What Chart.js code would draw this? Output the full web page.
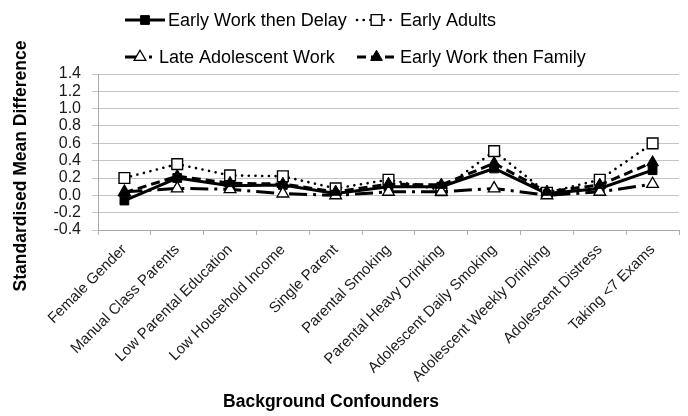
<!DOCTYPE html>
<html>
<head>
<meta charset="utf-8">
<script src="https://cdn.jsdelivr.net/npm/chart.js@4/dist/chart.umd.min.js"></script>
<style>
  html, body { margin: 0; padding: 0; background: #fff; }
  #wrap { width: 688px; height: 416px; position: relative; }
</style>
</head>
<body>
<div id="wrap"><canvas id="c" width="688" height="416"></canvas></div>
<script>
// Background confounders (x categories)
const confounders = [
  'Female Gender', 'Manual Class Parents', 'Low Parental Education',
  'Low Household Income', 'Single Parent', 'Parental Smoking',
  'Parental Heavy Drinking', 'Adolescent Daily Smoking',
  'Adolescent Weekly Drinking', 'Adolescent Distress', 'Taking <7 Exams'
];

// Standardised mean differences per trajectory group
const earlyWorkDelay   = [-0.06, 0.20, 0.11, 0.12, 0.02, 0.10, 0.10, 0.31, 0.02, 0.08, 0.29];
const earlyAdults      = [ 0.20, 0.36, 0.23, 0.22, 0.08, 0.18, 0.06, 0.51, 0.03, 0.18, 0.60];
const lateAdolescent   = [ 0.04, 0.08, 0.07, 0.02, 0.00, 0.04, 0.04, 0.08, 0.00, 0.04, 0.13];
const earlyWorkFamily  = [ 0.03, 0.22, 0.14, 0.13, 0.04, 0.13, 0.12, 0.37, 0.04, 0.12, 0.38];

const seriesNames = ['Early Work then Delay', 'Early Adults', 'Late Adolescent Work', 'Early Work then Family'];

// Y axis range and step
const yMin = -0.4, yMax = 1.4, yStep = 0.2;

const FONT = "'Liberation Sans', Arial, Helvetica, sans-serif";

// Legend: two rows of two entries, each a line sample with its marker
const legendSlots = [
  { ds: 0, x0: 125, x1: 165, y: 20, tx: 168 },
  { ds: 1, x0: 357, x1: 396, y: 20, tx: 400 },
  { ds: 2, x0: 125, x1: 155, y: 57, tx: 159 },
  { ds: 3, x0: 357, x1: 396, y: 57, tx: 400 }
];

function drawMarker(ctx, ds, x, y) {
  const r = ds.pointRadius;
  ctx.save();
  ctx.setLineDash([]);
  ctx.lineWidth = ds.pointBorderWidth;
  ctx.strokeStyle = ds.pointBorderColor;
  ctx.fillStyle = ds.pointBackgroundColor;
  ctx.beginPath();
  if (ds.pointStyle === 'rect') {
    const s = r * Math.SQRT1_2;
    ctx.rect(x - s, y - s, 2 * s, 2 * s);
  } else {
    // equilateral triangle, same geometry as Chart.js
    const h = r * 1.5;
    const w = r * Math.sqrt(3);
    ctx.moveTo(x, y - r);
    ctx.lineTo(x + w / 2, y - r + h);
    ctx.lineTo(x - w / 2, y - r + h);
    ctx.closePath();
  }
  ctx.fill();
  ctx.stroke();
  ctx.restore();
}

const decorations = {
  id: 'decorations',
  afterDraw(chart) {
    const ctx = chart.ctx;
    const sets = chart.data.datasets;

    // legend entries
    legendSlots.forEach(slot => {
      const ds = sets[slot.ds];
      ctx.save();
      ctx.strokeStyle = ds.borderColor;
      ctx.lineWidth = ds.borderWidth;
      ctx.lineCap = ds.borderCapStyle || 'butt';
      ctx.setLineDash(ds.borderDash || []);
      ctx.beginPath();
      ctx.moveTo(slot.x0, slot.y);
      ctx.lineTo(slot.x1, slot.y);
      ctx.stroke();
      ctx.restore();
      drawMarker(ctx, ds, (slot.x0 + slot.x1) / 2, slot.y);
      ctx.save();
      ctx.fillStyle = '#000';
      ctx.font = '18px ' + FONT;
      ctx.textAlign = 'left';
      ctx.textBaseline = 'middle';
      ctx.fillText(ds.label, slot.tx, slot.y + 1);
      ctx.restore();
    });

    // axis titles
    ctx.save();
    ctx.fillStyle = '#000';
    ctx.font = 'bold 17.5px ' + FONT;
    ctx.textAlign = 'center';
    ctx.textBaseline = 'middle';
    ctx.fillText('Background Confounders', 331, 402);
    ctx.translate(21, 166);
    ctx.rotate(-Math.PI / 2);
    ctx.fillText('Standardised Mean Difference', 0, 0);
    ctx.restore();
  }
};

new Chart(document.getElementById('c'), {
  type: 'line',
  data: {
    labels: confounders,
    datasets: [
      {
        label: seriesNames[0], data: earlyWorkDelay, order: 4,
        borderColor: '#000', borderWidth: 3, borderDash: [],
        pointStyle: 'rect', pointRadius: 6.2, pointBorderWidth: 1,
        pointBackgroundColor: '#000', pointBorderColor: '#000'
      },
      {
        label: seriesNames[1], data: earlyAdults, order: 3,
        borderColor: '#000', borderWidth: 2.6, borderDash: [0.1, 6.6], borderCapStyle: 'round',
        pointStyle: 'rect', pointRadius: 7.6, pointBorderWidth: 1.4,
        pointBackgroundColor: '#fff', pointBorderColor: '#000'
      },
      {
        label: seriesNames[2], data: lateAdolescent, order: 2,
        borderColor: '#000', borderWidth: 3, borderDash: [18, 6, 3, 6],
        pointStyle: 'triangle', pointRadius: 6.8, pointBorderWidth: 1.3,
        pointBackgroundColor: '#fff', pointBorderColor: '#000'
      },
      {
        label: seriesNames[3], data: earlyWorkFamily, order: 1,
        borderColor: '#000', borderWidth: 3, borderDash: [9, 5],
        pointStyle: 'triangle', pointRadius: 6.8, pointBorderWidth: 1,
        pointBackgroundColor: '#000', pointBorderColor: '#000'
      }
    ]
  },
  options: {
    responsive: false,
    animation: false,
    devicePixelRatio: 1,
    layout: { padding: { left: 38, right: 8, top: 74, bottom: 0 } },
    plugins: { legend: { display: false }, tooltip: { enabled: false }, title: { display: false } },
    elements: { line: { tension: 0, fill: false } },
    scales: {
      x: {
        type: 'category',
        offset: true,
        grid: {
          offset: true, drawOnChartArea: false, drawTicks: true,
          tickLength: 5, color: '#b0b0b0'
        },
        border: { display: true, color: '#a8a8a8', width: 1 },
        ticks: {
          autoSkip: false, minRotation: 45, maxRotation: 45,
          color: '#1a1a1a', padding: 6,
          font: { family: FONT, size: 15 }
        },
        afterFit(scale) { scale.height = 186; }
      },
      y: {
        min: yMin, max: yMax,
        grid: { color: '#c4c4c4', lineWidth: 1, drawTicks: true, tickLength: 6 },
        border: { display: true, color: '#a8a8a8', width: 1 },
        ticks: {
          stepSize: yStep, autoSkip: false, color: '#1a1a1a', padding: 11,
          font: { family: FONT, size: 16 },
          callback: v => (Math.abs(v) < 1e-9 ? 0 : Number(v)).toFixed(1)
        },
        afterFit(scale) { scale.width = 60; }
      }
    }
  },
  plugins: [decorations]
});
</script>
</body>
</html>
